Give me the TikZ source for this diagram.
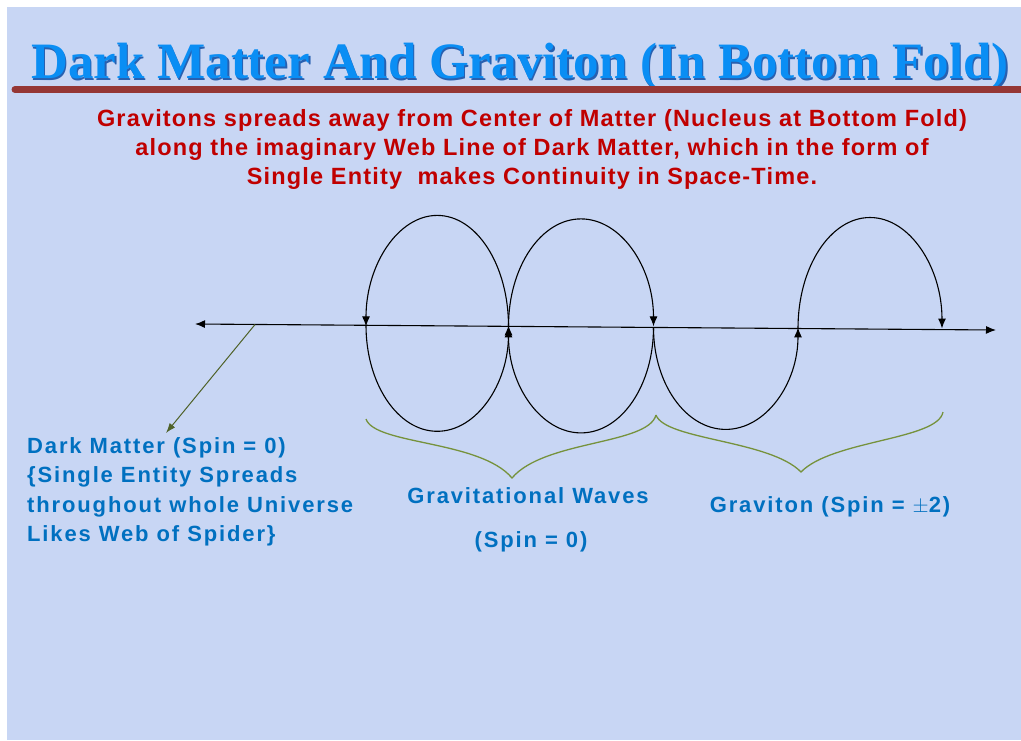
\documentclass[tikz,border=0pt]{standalone}
\usepackage{fontspec}
\setmainfont{Liberation Serif}
\setsansfont{Liberation Sans}
\newfontfamily\sperrrot[LetterSpace=5]{Liberation Sans}
\newfontfamily\sperrblau[LetterSpace=8.5]{Liberation Sans}
\usetikzlibrary{arrows.meta,calc}
\definecolor{hgrund}{HTML}{C8D6F4}
\definecolor{titel}{HTML}{0A8EF4}
\definecolor{titels}{HTML}{2860B0}
\definecolor{balken}{HTML}{953735}
\definecolor{rot}{HTML}{C00000}
\definecolor{blau}{HTML}{0070C0}
\definecolor{oliv}{HTML}{76923C}
\definecolor{olivd}{HTML}{4F6228}
\tikzset{
  welle/.style={-{Latex[length=10pt,width=8pt]},black,line width=1.1pt},
  achse/.style={{Latex[length=10pt,width=8pt]}-{Latex[length=10pt,width=8pt]},black,line width=1.1pt},
  klammer/.style={oliv,line width=1.3pt},
  zeiger/.style={-{Latex[length=10pt,width=7pt]},olivd,line width=1pt},
  titeltxt/.style={font=\rmfamily\bfseries\fontsize{51}{56}\selectfont,inner sep=0pt},
  rottxt/.style={rot,font=\sperrrot\bfseries\fontsize{23.5}{29}\selectfont,inner sep=0pt},
  blautxt/.style={blau,font=\sperrblau\bfseries\fontsize{22}{29.5}\selectfont,inner sep=0pt},
}
\begin{document}
\begin{tikzpicture}[x=1pt,y=-1pt]
  \useasboundingbox (0,0) rectangle (1021,740);
  \fill[hgrund] (7,7) rectangle (1021,740);
  \node[titeltxt,text=titels,anchor=base] (titelS) at (521.5,80) {Dark Matter And Graviton (In Bottom Fold)};
  \node[titeltxt,text=titel,anchor=base] (titel) at (520,78.5) {Dark Matter And Graviton (In Bottom Fold)};
  \draw[balken,line width=7pt,line cap=round] (15,89.5) -- (1025,89.5);
  \node[rottxt,anchor=base] (r1) at (532,126) {Gravitons spreads away from Center of Matter (Nucleus at Bottom Fold)};
  \node[rottxt,anchor=base] (r2) at (532,155) {along the imaginary Web Line of Dark Matter, which in the form of};
  \node[rottxt,anchor=base] (r3) at (532,184) {Single Entity\ \ makes Continuity in Space-Time.};
  \coordinate (wl) at (195,324);
  \coordinate (wr) at (996,330);
  \draw[achse] (wl) -- (wr);
  \coordinate (k1) at (366,325.3);
  \coordinate (k2) at (508.5,326.4);
  \coordinate (k3) at (653.5,327.4);
  \coordinate (k4) at (798,328.5);
  \coordinate (k5) at (942,329.6);
  \draw[welle] (k2) arc[start angle=0,end angle=-180,x radius=71.25,y radius=111];
  \draw[welle] (k1) arc[start angle=180,end angle=0,x radius=71.25,y radius=106];
  \draw[welle] (k2) arc[start angle=180,end angle=360,x radius=72.5,y radius=107.5];
  \draw[welle] (k3) arc[start angle=0,end angle=180,x radius=72.5,y radius=105.5];
  \draw[welle] (k3) arc[start angle=180,end angle=0,x radius=72.25,y radius=102];
  \draw[welle] (k4) arc[start angle=180,end angle=360,x radius=72,y radius=111];
  \draw[klammer] (366,419) .. controls (375,445) and (480,440) .. (512,478)
    .. controls (544,440) and (648,445) .. (656,415);
  \draw[klammer] (656,415) .. controls (665,440) and (770,440) .. (801,472)
    .. controls (832,440) and (938,440) .. (943,412);
  \node[blautxt,align=left,anchor=north west] (dm) at (27,437) {Dark Matter (Spin = 0)\\\{Single Entity Spreads\\throughout whole Universe\\Likes Web of Spider\}};
  \coordinate (dmfuss) at ($(wl)!0.075!(wr)$);
  \coordinate (dmspitze) at (166,433);
  \draw[zeiger] (dmfuss) -- (dmspitze);
  \node[blautxt,anchor=base] (gw) at (528,503) {Gravitational Waves};
  \node[blautxt,anchor=base] (gws) at (531,547) {(Spin = 0)};
  \node[blautxt,anchor=base] (gr) at (830,512) {Graviton (Spin = $\pm$2)};
\end{tikzpicture}
\end{document}
